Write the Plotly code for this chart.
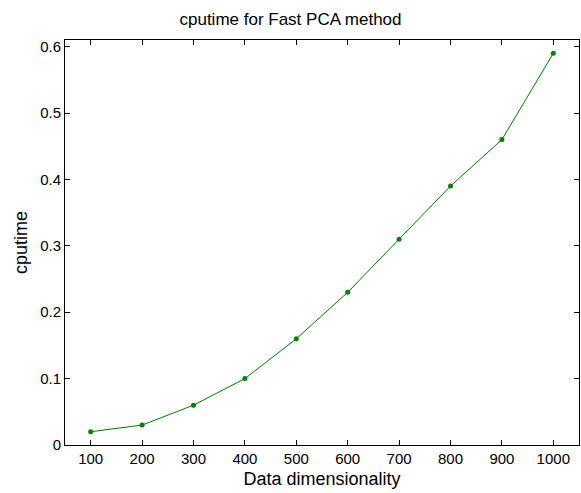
import plotly.graph_objects as go

dims = [100, 200, 300, 400, 500, 600, 700, 800, 900, 1000]
cputime = [0.02, 0.03, 0.06, 0.10, 0.16, 0.23, 0.31, 0.39, 0.46, 0.59]
x_ticks = [100, 200, 300, 400, 500, 600, 700, 800, 900, 1000]
y_ticks = [0, 0.1, 0.2, 0.3, 0.4, 0.5, 0.6]
y_tick_labels = ["0", "0.1", "0.2", "0.3", "0.4", "0.5", "0.6"]

FONT = "Liberation Sans, Arial"

fig = go.Figure()
fig.add_trace(go.Scatter(
    x=dims, y=cputime, mode="lines+markers",
    line=dict(color="#008000", width=1),
    marker=dict(color="#008000", size=5),
    showlegend=False, hoverinfo="skip",
))

axis_common = dict(
    showline=True, linecolor="black", linewidth=1, mirror="ticks",
    ticks="inside", ticklen=5, tickcolor="black", tickwidth=1,
    showgrid=False, zeroline=False, automargin=False,
    tickfont=dict(family=FONT, size=15, color="black"),
)

fig.update_layout(
    width=581, height=493,
    paper_bgcolor="white", plot_bgcolor="white",
    margin=dict(l=65, r=2, t=40, b=48, autoexpand=False),
    title=dict(text="cputime for Fast PCA method", x=0.5, xanchor="center",
               y=1 - 19/493, yanchor="middle",
               font=dict(family=FONT, size=17, color="black")),
    xaxis=dict(range=[50, 1050], tickvals=x_ticks,
               title=dict(text="Data dimensionality", standoff=6,
                          font=dict(family=FONT, size=18, color="black")),
               **axis_common),
    yaxis=dict(range=[0, 0.61], tickvals=y_ticks, ticktext=y_tick_labels,
               title=dict(text="cputime", standoff=7,
                          font=dict(family=FONT, size=18, color="black")),
               **axis_common),
)

fig.write_html("out.html", config={"displayModeBar": False},
               post_script="document.body.style.margin='0';")
